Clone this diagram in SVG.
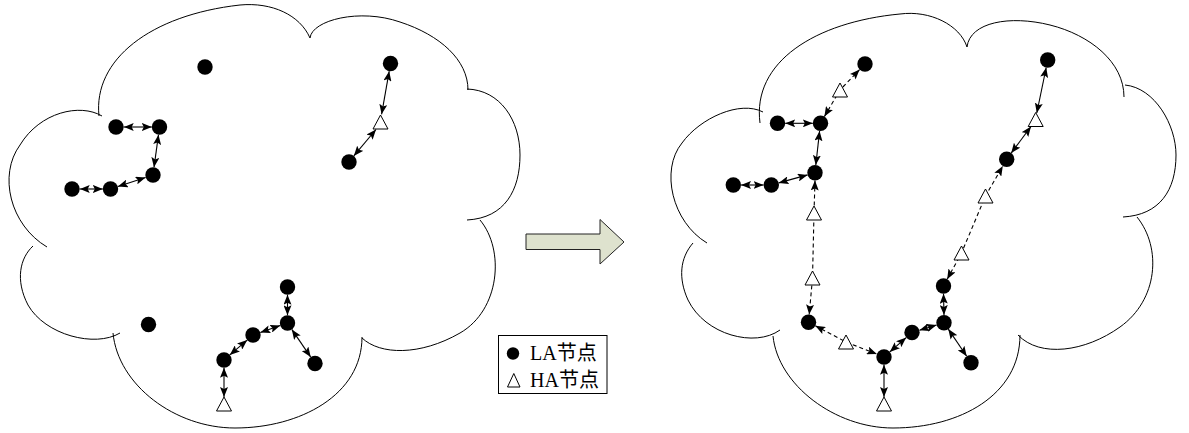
<svg xmlns="http://www.w3.org/2000/svg" width="1189" height="433" viewBox="0 0 1189 433">
  <defs>
    <style>
      .cloud { fill: none; stroke: #000; stroke-width: 1; }
      .la { fill: #000; }
      .ha { fill: #fff; stroke: #000; stroke-width: 1; }
      .link { fill: none; stroke: #000; stroke-width: 1.1; marker-start: url(#ah); marker-end: url(#ah); }
      .dash { stroke-dasharray: 4 3; }
      .legend-text { font-family: "Liberation Serif", "Noto Sans CJK SC", serif; font-size: 20px; fill: #000; }
    </style>
    <marker id="ah" viewBox="0 0 10 8" refX="10" refY="4" markerWidth="10" markerHeight="8" markerUnits="userSpaceOnUse" orient="auto-start-reverse">
      <path d="M0,0 L10,4 L0,8 L2,4 z" fill="#000"/>
    </marker>
  </defs>

  <rect width="1189" height="433" fill="#fff"/>

  <!-- network area before -->
  <g id="cloud-before" class="cloud">
    <path d="M99,116 C93,60 150,15 240,5 C272,2 300,15 310,38"/>
    <path d="M310,38 C312,20 360,8 400,22 C440,35 468,60 468,90"/>
    <path d="M467,89 C500,90 520,120 520,155 C520,190 505,218 467,220"/>
    <path d="M480,220 C505,250 500,310 460,333 C420,356 380,355 362,338"/>
    <path d="M362,337 C362,395 300,428 235,428 C175,428 118,385 113,333"/>
    <path d="M120,333 C95,348 45,335 28,305 C15,280 20,258 33,246"/>
    <path d="M47,247 C10,225 -2,175 20,145 C40,112 80,103 102,116"/>
  </g>

  <!-- network area after -->
  <g id="cloud-after" class="cloud">
    <path d="M760,123 C752,62 815,22 900,14 C930,10 960,25 967,47"/>
    <path d="M967,47 C970,22 1010,15 1050,25 C1090,35 1124,62 1124,97"/>
    <path d="M1125,85 C1155,88 1176,125 1176,155 C1176,190 1160,215 1123,217"/>
    <path d="M1137,217 C1162,248 1158,300 1120,327 C1085,352 1040,358 1018,335"/>
    <path d="M1020,335 C1020,395 960,428 893,428 C835,428 778,385 773,336"/>
    <path d="M780,330 C755,348 705,335 688,300 C678,278 680,258 693,243"/>
    <path d="M707,243 C672,222 660,170 682,143 C700,118 740,100 763,112"/>
  </g>

  <!-- transition arrow -->
  <g id="transition">
    <polygon points="526,234 600,234 600,219.5 624,242 600,264 600,249.5 526,249.5" fill="#dee2ce" stroke="#222" stroke-width="1"/>
  </g>

  <!-- connectors -->
  <g id="connectors">
    <!-- before -->
    <line class="link" x1="123.7" y1="127" x2="151.8" y2="127"/>
    <line class="link" x1="158.5" y1="134.7" x2="154" y2="167.3"/>
    <line class="link" x1="145.6" y1="177.4" x2="117.9" y2="186.6"/>
    <line class="link" x1="102.8" y1="189" x2="79.7" y2="189"/>
    <line class="link" x1="389.2" y1="71.2" x2="381.6" y2="114.3"/>
    <line class="link" x1="353.8" y1="155.9" x2="376" y2="129.5"/>
    <line class="link" x1="287.5" y1="294.7" x2="287.5" y2="315.3"/>
    <line class="link" x1="280.2" y1="325.6" x2="260.3" y2="332.4"/>
    <line class="link" x1="247.2" y1="340.1" x2="229.8" y2="354.9"/>
    <line class="link" x1="291.8" y1="329.4" x2="310.7" y2="357.1"/>
    <line class="link" x1="224" y1="367.7" x2="224" y2="397"/>

    <!-- after: direct links -->
    <line class="link" x1="785.2" y1="123.3" x2="812.8" y2="123.3"/>
    <line class="link" x1="819.6" y1="131" x2="815.8" y2="165.1"/>
    <line class="link" x1="807.6" y1="174.9" x2="778.7" y2="182.9"/>
    <line class="link" x1="763.6" y1="185" x2="741" y2="185"/>
    <line class="link" x1="884" y1="364.7" x2="884" y2="397"/>
    <line class="link" x1="889.8" y1="351.9" x2="906.2" y2="337.6"/>
    <line class="link" x1="919.4" y1="330.2" x2="936.6" y2="325"/>
    <line class="link" x1="944" y1="315" x2="943.5" y2="293.7"/>
    <line class="link" x1="948.3" y1="329.1" x2="966.7" y2="356.3"/>
    <line class="link" x1="1011.2" y1="153.1" x2="1031" y2="126.5"/>
    <line class="link" x1="1046.2" y1="67.5" x2="1036.8" y2="113"/>

    <!-- after: links relayed through HA nodes -->
    <polyline class="link dash" points="824.4,116.6 840,90 859.6,69.6"/>
    <polyline class="link dash" points="815,180.5 814,213 812.5,278 809.2,314.5"/>
    <polyline class="link dash" points="815.3,325.8 846,342 876.8,354.1"/>
    <polyline class="link dash" points="947.2,279.2 961.5,253 985.5,196 1002.8,166"/>
  </g>

  <!-- nodes, before -->
  <g id="b-la1"><circle class="la" cx="205" cy="67" r="7.7"/></g>
  <g id="b-la2"><circle class="la" cx="390.5" cy="63.5" r="7.7"/></g>
  <g id="b-ha1"><polygon class="ha" points="380.5,115 373,129 388,129"/></g>
  <g id="b-la3"><circle class="la" cx="349" cy="162" r="7.7"/></g>
  <g id="b-la4"><circle class="la" cx="116" cy="127" r="7.7"/></g>
  <g id="b-la5"><circle class="la" cx="159.5" cy="127" r="7.7"/></g>
  <g id="b-la6"><circle class="la" cx="153" cy="175" r="7.7"/></g>
  <g id="b-la7"><circle class="la" cx="110.5" cy="189" r="7.7"/></g>
  <g id="b-la8"><circle class="la" cx="72" cy="189" r="7.7"/></g>
  <g id="b-la9"><circle class="la" cx="287.5" cy="287" r="7.7"/></g>
  <g id="b-la10"><circle class="la" cx="287.5" cy="323" r="7.7"/></g>
  <g id="b-la11"><circle class="la" cx="253" cy="335" r="7.7"/></g>
  <g id="b-la12"><circle class="la" cx="224" cy="360" r="7.7"/></g>
  <g id="b-la13"><circle class="la" cx="315" cy="363.5" r="7.7"/></g>
  <g id="b-ha2"><polygon class="ha" points="224,397 216.5,411 231.5,411"/></g>
  <g id="b-la14"><circle class="la" cx="148.5" cy="324.5" r="7.7"/></g>

  <!-- nodes, after -->
  <g id="a-la1"><circle class="la" cx="865" cy="64" r="7.7"/></g>
  <g id="a-ha1"><polygon class="ha" points="840,83 832.5,97 847.5,97"/></g>
  <g id="a-la2"><circle class="la" cx="820.5" cy="123.3" r="7.7"/></g>
  <g id="a-la3"><circle class="la" cx="777.5" cy="123.3" r="7.7"/></g>
  <g id="a-la4"><circle class="la" cx="815" cy="172.8" r="7.7"/></g>
  <g id="a-la5"><circle class="la" cx="771.3" cy="185" r="7.7"/></g>
  <g id="a-la6"><circle class="la" cx="733.3" cy="185" r="7.7"/></g>
  <g id="a-ha2"><polygon class="ha" points="814,206 806.5,220 821.5,220"/></g>
  <g id="a-ha3"><polygon class="ha" points="812.5,271 805,285 820,285"/></g>
  <g id="a-la7"><circle class="la" cx="808.5" cy="322.2" r="7.7"/></g>
  <g id="a-ha4"><polygon class="ha" points="846,335 838.5,349 853.5,349"/></g>
  <g id="a-la8"><circle class="la" cx="884" cy="357" r="7.7"/></g>
  <g id="a-ha5"><polygon class="ha" points="884,397 876.5,411 891.5,411"/></g>
  <g id="a-la9"><circle class="la" cx="912" cy="332.5" r="7.7"/></g>
  <g id="a-la10"><circle class="la" cx="944" cy="322.7" r="7.7"/></g>
  <g id="a-la11"><circle class="la" cx="943.5" cy="286" r="7.7"/></g>
  <g id="a-la12"><circle class="la" cx="971" cy="362.7" r="7.7"/></g>
  <g id="a-ha6"><polygon class="ha" points="961.5,246 954,260 969,260"/></g>
  <g id="a-ha7"><polygon class="ha" points="985.5,189 978,203 993,203"/></g>
  <g id="a-la13"><circle class="la" cx="1006.7" cy="159.3" r="7.7"/></g>
  <g id="a-ha8"><polygon class="ha" points="1035.7,112.5 1028.2,126.5 1043.2,126.5"/></g>
  <g id="a-la14"><circle class="la" cx="1047.7" cy="60" r="7.7"/></g>

  <!-- legend -->
  <g id="legend">
    <rect x="498.5" y="335.5" width="108.5" height="58" fill="#fff" stroke="#000" stroke-width="1"/>
    <circle cx="513" cy="353.5" r="6.2" fill="#000"/>
    <text class="legend-text" x="530" y="360">LA节点</text>
    <polygon points="513.8,373.5 507.5,387 520,387" fill="#fff" stroke="#000" stroke-width="1"/>
    <text class="legend-text" x="530" y="387">HA节点</text>
  </g>
</svg>
